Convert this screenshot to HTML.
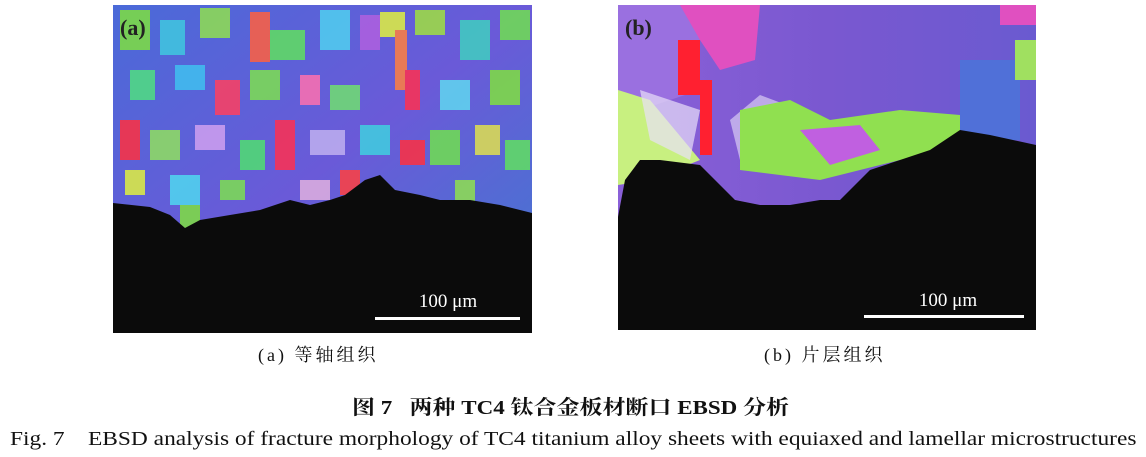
<!DOCTYPE html>
<html><head><meta charset="utf-8"><style>
body{margin:0;background:#fff;width:1146px;height:457px;overflow:hidden;position:relative;font-family:"Liberation Serif","Noto Serif CJK SC",serif}
svg{position:absolute;left:0;top:0}
.t{position:absolute;white-space:nowrap;color:#111;transform-origin:0 0}
</style></head><body>
<svg width="1146" height="457" viewBox="0 0 1146 457">
<defs>
<linearGradient id="ga" x1="0" y1="0" x2="1" y2="1">
<stop offset="0" stop-color="#4a6ad8"/><stop offset=".5" stop-color="#6a5ad8"/><stop offset="1" stop-color="#3f7ad0"/></linearGradient>
<linearGradient id="gb" x1="0" y1="0" x2="1" y2="0">
<stop offset="0" stop-color="#8a60d8"/><stop offset=".5" stop-color="#7a58d0"/><stop offset="1" stop-color="#6a5ad0"/></linearGradient>
</defs>
<rect x="113" y="5" width="419" height="328" fill="url(#ga)"/>
<g opacity=".85">
<rect x="120" y="10" width="30" height="40" fill="#7ee040"/><rect x="160" y="20" width="25" height="35" fill="#40c8e0"/>
<rect x="200" y="8" width="30" height="30" fill="#90e050"/><rect x="250" y="12" width="20" height="50" fill="#ff6040"/>
<rect x="270" y="30" width="35" height="30" fill="#60e060"/><rect x="320" y="10" width="30" height="40" fill="#50d0f0"/>
<rect x="360" y="15" width="20" height="35" fill="#b060e0"/><rect x="380" y="12" width="25" height="25" fill="#e0f040"/>
<rect x="395" y="30" width="12" height="60" fill="#ff8040"/><rect x="415" y="10" width="30" height="25" fill="#a0e040"/>
<rect x="460" y="20" width="30" height="40" fill="#40d0c0"/><rect x="500" y="10" width="30" height="30" fill="#70e050"/>
<rect x="130" y="70" width="25" height="30" fill="#50e080"/><rect x="175" y="65" width="30" height="25" fill="#40c0f0"/>
<rect x="215" y="80" width="25" height="35" fill="#ff4060"/><rect x="250" y="70" width="30" height="30" fill="#7de050"/>
<rect x="300" y="75" width="20" height="30" fill="#ff70b0"/><rect x="330" y="85" width="30" height="25" fill="#70e070"/>
<rect x="405" y="70" width="15" height="40" fill="#ff3050"/><rect x="440" y="80" width="30" height="30" fill="#60d8f0"/>
<rect x="490" y="70" width="30" height="35" fill="#80e040"/>
<rect x="120" y="120" width="20" height="40" fill="#ff3040"/><rect x="150" y="130" width="30" height="30" fill="#90e060"/>
<rect x="195" y="125" width="30" height="25" fill="#d0a0f0"/><rect x="240" y="140" width="25" height="30" fill="#50e070"/>
<rect x="275" y="120" width="20" height="50" fill="#ff3050"/><rect x="310" y="130" width="35" height="25" fill="#c0b0f0"/>
<rect x="360" y="125" width="30" height="30" fill="#40d0e0"/><rect x="400" y="140" width="25" height="25" fill="#ff3040"/>
<rect x="430" y="130" width="30" height="35" fill="#70e050"/><rect x="475" y="125" width="25" height="30" fill="#e0e050"/>
<rect x="505" y="140" width="25" height="30" fill="#60e060"/>
<rect x="125" y="170" width="20" height="25" fill="#e0f040"/><rect x="170" y="175" width="30" height="30" fill="#50d8f0"/>
<rect x="220" y="180" width="25" height="20" fill="#7de050"/><rect x="300" y="180" width="30" height="20" fill="#e0b0e0"/>
<rect x="340" y="170" width="20" height="25" fill="#ff4040"/><rect x="180" y="205" width="20" height="25" fill="#80e040"/>
<rect x="455" y="180" width="20" height="30" fill="#90e050"/>
</g>
<path d="M113,203 L150,207 L170,215 L185,228 L200,220 L230,215 L260,210 L290,200 L310,205 L330,200 L345,195 L365,180 L380,175 L395,190 L420,195 L440,200 L470,200 L500,205 L532,213 L532,333 L113,333Z" fill="#0b0b0b"/>
<rect x="375" y="317" width="145" height="3" fill="#fff"/>
<text x="448" y="307" font-family="Liberation Serif" font-size="19" fill="#fff" text-anchor="middle">100 μm</text>
<text x="120" y="35" font-family="Liberation Serif" font-size="22" font-weight="bold" fill="#222">(a)</text>
<rect x="618" y="5" width="418" height="325" fill="url(#gb)"/>
<path d="M618,5 L700,5 L700,90 L640,110 L618,95Z" fill="#9a70e0"/>
<path d="M680,5 L760,5 L755,60 L720,70 L700,40Z" fill="#e050c0"/>
<path d="M618,90 L650,100 L700,160 L650,180 L618,185Z" fill="#c8f080"/>
<path d="M640,90 L700,110 L690,160 L650,140Z" fill="#e8e0f8" opacity=".7"/>
<rect x="678" y="40" width="22" height="55" fill="#ff2030"/>
<rect x="700" y="80" width="12" height="75" fill="#ff2030"/>
<path d="M730,120 L760,95 L800,110 L780,150 L740,160Z" fill="#e8e0f8" opacity=".6"/>
<path d="M740,110 L790,100 L830,120 L900,110 L960,115 L980,130 L940,150 L900,160 L860,170 L820,180 L780,175 L740,170Z" fill="#90e050"/>
<path d="M800,130 L860,125 L880,150 L830,165Z" fill="#c060e0"/>
<rect x="960" y="60" width="60" height="80" fill="#5070d8"/>
<rect x="1015" y="40" width="21" height="40" fill="#a0e060"/>
<rect x="1000" y="5" width="36" height="20" fill="#e050c0"/>
<path d="M618,217 L625,180 L640,160 L660,160 L700,165 L720,185 L735,200 L760,205 L790,205 L820,200 L840,200 L860,180 L870,170 L900,160 L930,150 L960,130 L990,135 L1036,145 L1036,330 L618,330Z" fill="#0b0b0b"/>
<rect x="864" y="315" width="160" height="3" fill="#fff"/>
<text x="948" y="306" font-family="Liberation Serif" font-size="19" fill="#fff" text-anchor="middle">100 μm</text>
<text x="625" y="35" font-family="Liberation Serif" font-size="22" font-weight="bold" fill="#222">(b)</text>
</svg>
<div class="t" style="left:258px;top:341px;font-size:18px;letter-spacing:3px">(a)&nbsp;等轴组织</div>
<div class="t" style="left:764px;top:341px;font-size:18px;letter-spacing:3px">(b)&nbsp;片层组织</div>
<div class="t" style="left:352px;top:391px;font-size:20px;font-weight:bold;font-family:'Liberation Serif','Noto Serif CJK SC',serif;transform:scaleX(1.15)">图 7&nbsp;&nbsp;&nbsp;两种 TC4 钛合金板材断口 EBSD 分析</div>
<div class="t" style="left:10px;top:428px;font-size:20px;transform:scaleX(1.17)">Fig. 7&nbsp;&nbsp;&nbsp;&nbsp;EBSD analysis of fracture morphology of TC4 titanium alloy sheets with equiaxed and lamellar microstructures</div>
</body></html>
